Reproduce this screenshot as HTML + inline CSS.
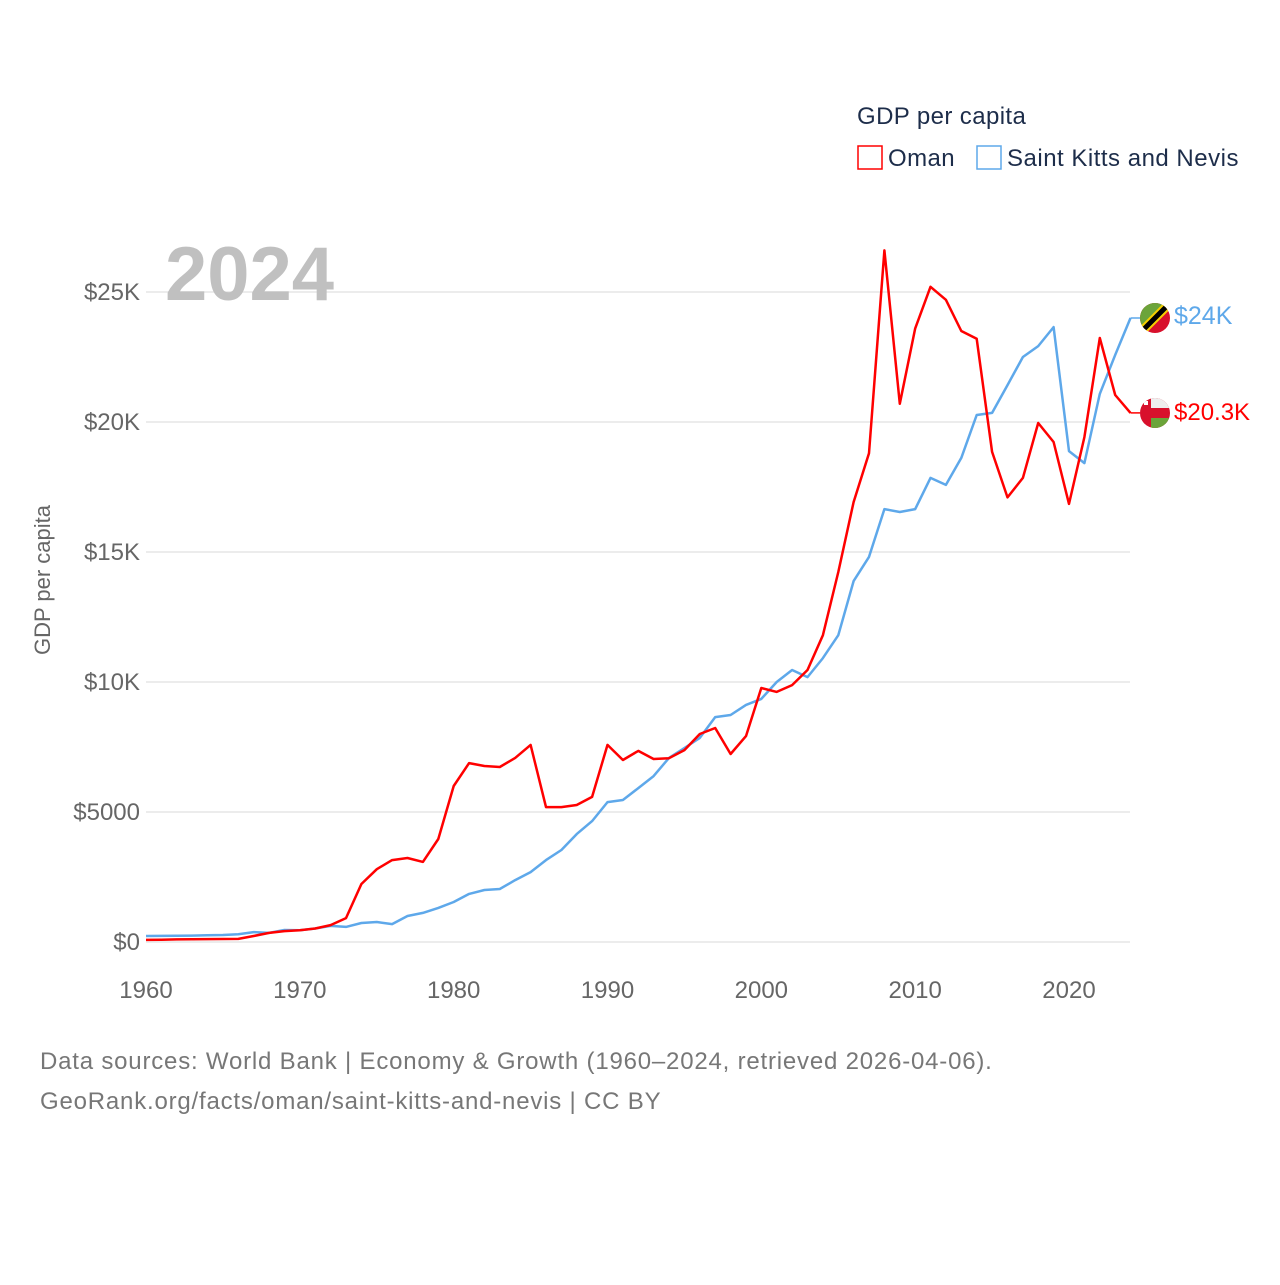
<!DOCTYPE html>
<html><head><meta charset="utf-8"><style>
body{margin:0;background:#fff;font-family:"Liberation Sans",sans-serif}
svg text{font-family:"Liberation Sans",sans-serif}
</style></head><body>
<svg id="chart" width="1280" height="1280" xmlns="http://www.w3.org/2000/svg">
<rect width="1280" height="1280" fill="#fff"/>
<g id="grid"></g>
<g id="yticks"></g>
<g id="xticks"></g>
<text x="165" y="300" font-size="76" font-weight="bold" fill="#c0c0c0">2024</text>
<text transform="translate(50,580) rotate(-90)" text-anchor="middle" font-size="22" fill="#666">GDP per capita</text>
<g id="series"></g>
<g>
<text x="857" y="124" font-size="24" fill="#1d2d4a" letter-spacing="0.4">GDP per capita</text>
<g><rect x="858" y="146" width="24" height="23" fill="none" stroke="#f00" stroke-width="1.5"/><text x="888" y="166" font-size="24" fill="#1d2d4a" letter-spacing="0.4">Oman</text></g>
<g><rect x="977" y="146" width="24" height="23" fill="none" stroke="#5ea8ea" stroke-width="1.5"/><text x="1007" y="166" font-size="24" fill="#1d2d4a" letter-spacing="0.5">Saint Kitts and Nevis</text></g>
</g>
<g>
<clipPath id="c1"><circle cx="1155" cy="318" r="15"/></clipPath>
<g clip-path="url(#c1)"><rect x="1140" y="303" width="30" height="30" fill="#d8102c"/><polygon points="1140,303 1170,303 1140,333" fill="#6ba43a"/><line x1="1138" y1="335" x2="1172" y2="301" stroke="#f6d000" stroke-width="9"/><line x1="1138" y1="335" x2="1172" y2="301" stroke="#000" stroke-width="5"/></g>
</g>
<g>
<clipPath id="c2"><circle cx="1155" cy="413" r="15"/></clipPath>
<g clip-path="url(#c2)"><rect x="1140" y="398" width="30" height="30" fill="#d8102c"/><rect x="1151" y="398" width="19" height="10" fill="#eee"/><rect x="1151" y="418" width="19" height="10" fill="#6ba43a"/><rect x="1144" y="401" width="4" height="4" fill="#fff"/></g>
</g>
<text x="1174" y="324" font-size="25" fill="#5ea8ea">$24K</text>
<text x="1174" y="420" font-size="24" fill="#f00">$20.3K</text>
<text x="40" y="1069" font-size="24" fill="#777" letter-spacing="0.8">Data sources: World Bank | Economy &amp; Growth (1960–2024, retrieved 2026-04-06).</text>
<text x="40" y="1109" font-size="24" fill="#777" letter-spacing="0.8">GeoRank.org/facts/oman/saint-kitts-and-nevis | CC BY</text>
</svg>
<script>
const years=[];for(let y=1960;y<=2024;y++)years.push(y);
const omanValues=[80,90,100,105,110,115,120,230,350,420,450,520,650,920,2230,2800,3150,3230,3080,3960,6000,6880,6770,6730,7080,7580,5190,5190,5270,5580,7580,7000,7350,7040,7070,7380,8000,8230,7230,7920,9770,9620,9880,10460,11800,14230,16920,18800,26600,20700,23600,25200,24700,23500,23200,18850,17100,17850,19960,19230,16850,19420,23230,21040,20350];
const sknValues=[230,235,240,245,260,270,300,380,350,460,450,520,620,580,730,770,690,1000,1120,1310,1540,1850,2000,2040,2380,2690,3150,3540,4150,4650,5380,5460,5920,6380,7080,7460,7850,8650,8730,9120,9350,10000,10460,10190,10920,11800,13880,14810,16650,16540,16650,17850,17580,18620,20270,20350,21420,22500,22920,23650,18880,18420,21080,22580,24000];
const yTicks=[0,5000,10000,15000,20000,25000];
const yTickLabels=["$0","$5000","$10K","$15K","$20K","$25K"];
const xTicks=[1960,1970,1980,1990,2000,2010,2020];
const NS="http://www.w3.org/2000/svg";
const xS=y=>146+(y-1960)*(1069-146)/60;
const yS=v=>942-v*(650/25000);
function mk(tag,attrs,parent){const e=document.createElementNS(NS,tag);for(const k in attrs)e.setAttribute(k,attrs[k]);parent.appendChild(e);return e;}
const grid=document.getElementById('grid'),yt=document.getElementById('yticks'),xt=document.getElementById('xticks'),ser=document.getElementById('series');
yTicks.forEach((v,i)=>{
 const l=mk('line',{x1:146,x2:1130,y1:yS(v),y2:yS(v),stroke:'#e6e6e6','stroke-width':1.5},grid);
 
 
 const t=mk('text',{x:140,y:yS(v)+8,'text-anchor':'end','font-size':24,fill:'#666'},yt);
 t.textContent=yTickLabels[i];
 
 
});
xTicks.forEach(y=>{
 const t=mk('text',{x:xS(y),y:998,'text-anchor':'middle','font-size':24,fill:'#666'},xt);
 t.textContent=y;
 
 
});
function line(vals,color,name){
 const d=vals.map((v,i)=>(i?'L':'M')+xS(years[i]).toFixed(1)+','+yS(v).toFixed(1)).join('');
 const p=mk('path',{d:d,fill:'none',stroke:color,'stroke-width':2.5,'stroke-linejoin':'round'},ser);
 
 
 const last=vals[vals.length-1];
 const c=mk('line',{x1:xS(2024),x2:1140,y1:yS(last),y2:yS(last),stroke:color,'stroke-width':1.5},ser);
 
 
}
line(sknValues,'#5ea8ea','saint-kitts-line');
line(omanValues,'#f00','oman-line');
</script>
</body></html>
